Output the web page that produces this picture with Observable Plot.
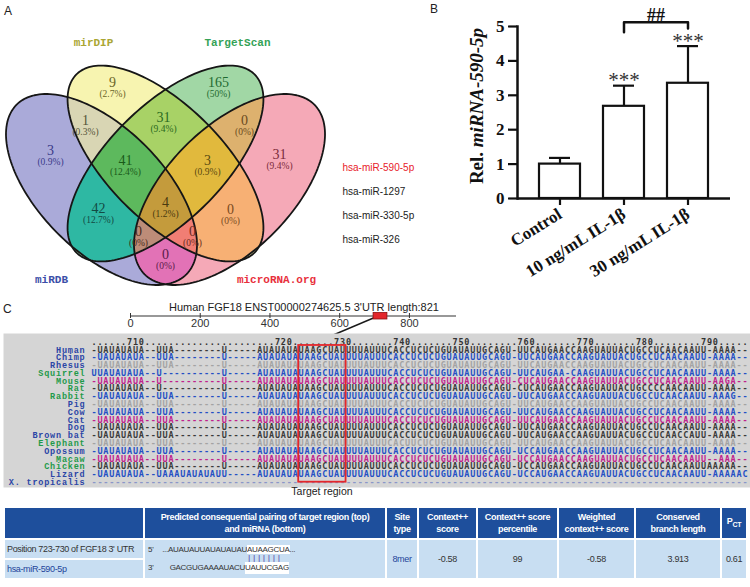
<!DOCTYPE html>
<html>
<head>
<meta charset="utf-8">
<script src="https://cdn.jsdelivr.net/npm/d3@7"></script>
<script src="https://cdn.jsdelivr.net/npm/@observablehq/plot@0.6"></script>
<style>
html,body{margin:0;padding:0;background:#fff;}
#fig{position:relative;width:750px;height:587px;overflow:hidden;background:#fff;font-family:"Liberation Sans",Arial,sans-serif;color:#222;}
.abs{position:absolute;}
.plabel{position:absolute;font-size:12px;line-height:13px;color:#222;}
#tbl{position:absolute;left:3px;top:506px;border-collapse:separate;border-spacing:2px;table-layout:fixed;width:745px;background:#fff;}
#tbl th{background:#1e4f9c;color:#fff;font-weight:bold;height:30px;padding:0;text-align:center;vertical-align:middle;}
#tbl td{background:#c8def2;padding:0;height:18px;vertical-align:middle;color:#333;}
.hl{background:#fff;}
</style>
</head>
<body>
<div id="fig"></div>
<script>
// ================= DATA =================
// Panel A – Venn diagram
const vennSets = ["miRDB", "mirDIP", "TargetScan", "microRNA.org"];
const vennRegionKeys = ["Y", "G", "BY", "YG", "GP", "B", "BYG", "YGP", "P", "BG", "BYGP", "YP", "BGP", "BYP", "BP"];
const vennCounts = [9, 165, 1, 31, 0, 3, 41, 3, 31, 42, 4, 0, 0, 0, 0];
const vennPercents = ["2.7%", "50%", "0.3%", "9.4%", "0%", "0.9%", "12.4%", "0.9%", "9.4%", "12.7%", "1.2%", "0%", "0%", "0%", "0%"];
const predictedMiRNAs = ["hsa-miR-590-5p", "hsa-miR-1297", "hsa-miR-330-5p", "hsa-miR-326"];

// Panel B – bar chart
const groups = ["Control", "10 ng/mL IL-1β", "30 ng/mL IL-1β"];
const means = [1.0, 2.68, 3.35];
const sds = [0.18, 0.60, 1.08];
const sigMarks = ["", "***", "***"];
const yTicks = [0, 1, 2, 3, 4, 5];

// Panel C – conservation
const utrTitle = "Human FGF18 ENST00000274625.5 3'UTR length:821";
const utrTicks = [0, 200, 400, 600, 800];
const siteStart = 723, siteEnd = 730;
const species = ["Human", "Chimp", "Rhesus", "Squirrel", "Mouse", "Rat", "Rabbit", "Pig", "Cow", "Cat", "Dog", "Brown bat", "Elephant", "Opossum", "Macaw", "Chicken", "Lizard", "X. tropicalis"];
const alignHeader = "......710" + "......................720" + ".......730" + ".......740" + ".......750" + "........760" + ".......770" + ".......780" + "........790" + ".....";
const alignedSeqs = [
  "-UAUAUAUA--UUA--------U-----" + "AUAUAUAUAAGCUA" + "UUUUAUUUCACCUCUCUGUAUAUUGCAGU" + "-" + "UUCAUGAACCAAGUAUUACUGCCUCAACAAUU" + "-AAAA--",
  "-UAUAUAUA--UUA--------U-----" + "AUAUAUAUAAGCUA" + "UUUUAUUUCACCUCUCUGUAUAUUGCAGU" + "-" + "UUCAUGAACCAAGUAUUACUGCCUCAACAAUU" + "-AAAA--",
  "-UAUAUAUA--UUA--------U-----" + "AUAUAUAUAAGCUA" + "UUUUAUUUCACCUCUCUGUAUAUUGCAGU" + "-" + "UUCAUGAACCAAGUAUUACUGCCUCAACAAUU" + "-AAAA--",
  "UUAUAUAUA--U----------U-----" + "AUAUAUAUAAGCUA" + "UUUUAUUUCACCUCUCUGUAUAUUGCAGU" + "-" + "UUCAUGAA-CAAGUAUUACUGCCUCAACAAUU" + "-AAAA--",
  "-UAUAUAUA--U----------U-----" + "AUAUAUAUAAGCUA" + "UUUUAUUUCACCUCUCUGUAUAUUGCAGU" + "-" + "CUCAUGAACCAAGUAUUACUGCCUCAACAAUU" + "-AAGA--",
  "-UAUAUAUA--U----------U-----" + "AUAUAUAUAAGCUA" + "UUUUAUUUCACCUCUCUGUAUAUUGCAGU" + "-" + "CUCAUGAACCAAGUAUUACUGCCCCAACAAUU" + "-AAAA--",
  "-UAUAUAUA--UUA--------U-----" + "AUAUAUAUAAGCUA" + "UUUUAUUUCACCUCUCUGUAUAUUGCAGU" + "-" + "UUCAUGAACCAAGUAUUACUGCCUCAACAAUU" + "-AAAG--",
  "-UAUAUAUA--UUA--------U-----" + "AUAUAUAUAAGCUA" + "UUUUAUUUCACCUCUCUGUAUAUUGCAGU" + "-" + "UUCAUGAACCAAGUAUUACUGCCUCAACAAUU" + "-AAAA--",
  "-UAUAUAUA--UUA--------U-----" + "AUAUAUAUAAGCUA" + "UUUUAUUUCACCUCUCUGUAUAUUGCAGU" + "-" + "UUCAUGAACCAAGUAUUACUGCCUCAACAAUU" + "-AAAA--",
  "-UAUAUAUA--UUA--------U-----" + "AUAUAUAUAAGCUA" + "UUUUAUUUCACCUCUCUGUAUAUUGCAGU" + "-" + "UUCAUGAACCAAGUAUUACUGCCUCAACAAUU" + "-AAAA--",
  "-UAUAUAUA--UUA--------U-----" + "AUAUAUAUAAGCUA" + "UUUUAUUUCACCUCUCUGUAUAUUGCAGU" + "-" + "UUCAUGAACCAAGUAUUACUGCCUCAACAAUU" + "-AAAA--",
  "-UAUAUAUA--UUA--------U-----" + "AUAUAUAUAAGCUA" + "UUUUAUUUCACCUCUCUGUAUAUUGCAGU" + "-" + "UUCAUGAACCAAGUAUUACUGCCUCAACCAUU" + "-AAAA--",
  "-UAUAUAUA--UUA--------U-----" + "AUAUAUAUAAGCUA" + "UUUUAUUUCACUUCUCUGUAUAUUGCAGU" + "-" + "UUCAUGAACCAAGUAUUACUGCCUCAACAAUU" + "-AAAA--",
  "-UAUAUAUA--UUA--------U-----" + "AUAUAUAUAAGCUA" + "UUUUAUUUCACCUCUCUGUAUAUUGCAGU" + "-" + "UCCAUGAACCAAGUAUUACUGCCUCAACAAUU" + "-AAAA--",
  "-UAUAUAUA--UUA--------U-----" + "AUAUAUAUAAGCUA" + "UUUUAUUUCACCUCUCUGUAUAUUGCAGU" + "-" + "UCCAUGAACCAAGUAUUACUGCCUCAACAAUU" + "--AAA--",
  "-UAUAUAUA--UUA--------U-----" + "AUAUAUAUAAGCUA" + "UUUUAUUUCACCUCUCUGUAUAUUGCAGU" + "-" + "UCCAUGAACCAAGUAUUACUGCCUCAACAAUU" + "AAAAA--",
  "-UAUAUAUA--UAAAUAUAUAUU-----" + "AUAUAUAUAAGCUA" + "UUUUAUUUCACCUCUCUGUAUAUUGCAGU" + "-" + "UCCAUGAACCAAGUAUUACUGCCUCAACAAUU" + "-AAAAAC",
  "-".repeat(111)
];

// Table
const tableHeaders = ["", "Predicted consequential pairing of target region (top)|and miRNA (bottom)", "Site|type", "Context++|score", "Context++ score|percentile", "Weighted|context++ score", "Conserved|branch length", "P_CT"];
const sitePosition = "Position 723-730 of FGF18 3' UTR";
const mirnaName = "hsa-miR-590-5p";
const targetPrefix = "...AUAUAUUAUAUAUAU", targetSite = "AUAAGCUA", targetSuffix = "...";
const mirnaPrefix = "GACGUGAAAAUACU", mirnaSite = "UAUUCGAG";
const pairing = "|||||||";
const siteType = "8mer", contextScore = "-0.58", contextPercentile = "99", weightedScore = "-0.58", branchLength = "3.913", pctValue = "0.61";

// ================= STYLES / LAYOUT =================
const serif = "'Liberation Serif','Times New Roman',serif";
const mono = "'Liberation Mono','Courier New',monospace";
const regionFills = {B:"#aaaad9", Y:"#f7f4b0", G:"#a1d7a5", P:"#f5a9b7", BY:"#d9d6b4", BG:"#2eb8a3", YG:"#a8d266", BYG:"#5db95d",
  BP:"#e272b6", YP:"#f7b074", BYP:"#f17e74", GP:"#ddb16e", BGP:"#bd8c78", YGP:"#e1b93d", BYGP:"#c49b3c"};
const vennLabelColors = ["#6a6428","#1f6a30","#55553a","#2a6a20","#6a4a20","#3a3a8a","#1a5a1a","#5a4a10","#7a2a3a","#134a44","#4a3a10","#7a4a20","#4a2a20","#6a2a20","#5a1a4a"];
const vennLabelX = [112, 218, 85, 163, 244, 50, 125, 207, 279, 98, 165, 230, 138, 192, 165];
const vennLabelY = [82, 82, 120, 117, 120, 150, 160, 160, 154, 208, 202, 209, 231, 231, 254];
const vennGeom = {
  "miRDB":        {key:"B", cx:101, cy:189, a:120, b:62,   angle:45,  lx:51,  ly:279, color:"#3b4fa8"},
  "mirDIP":       {key:"Y", cx:165, cy:163, a:126, b:57.5, angle:45,  lx:93,  ly:42,  color:"#aaa633"},
  "TargetScan":   {key:"G", cx:165, cy:163, a:126, b:57.5, angle:-45, lx:237, ly:42,  color:"#35a257"},
  "microRNA.org": {key:"P", cx:229, cy:189, a:120, b:62,   angle:-45, lx:276, ly:279, color:"#e8303c"}
};
const nameBlue = "#2b45a6", nameGreen = "#1f9a4a";
const nameColors = [nameBlue,nameBlue,nameBlue,nameGreen,nameGreen,nameGreen,nameGreen,nameBlue,nameBlue,nameBlue,nameBlue,nameBlue,nameGreen,nameBlue,nameGreen,nameGreen,nameBlue,nameBlue];
const sDark="#3b3b3b", sBlue="#2450c4", sGray="#a3a3a3", sMag="#c0228c";
const seqColors = [sDark,sBlue,sGray,sBlue,sMag,sDark,sBlue,sGray,sBlue,sMag,sDark,sDark,sGray,sBlue,sMag,sDark,sBlue,"#8a96c8"];

const fig = document.getElementById("fig");
function place(node, left, top, w, h) {
  const d = document.createElement("div");
  d.className = "abs";
  d.style.left = left + "px"; d.style.top = top + "px";
  if (w) d.style.width = w + "px";
  if (h) d.style.height = h + "px";
  d.appendChild(node);
  fig.appendChild(d);
  return d;
}
function label(text, left, top, css) {
  const d = document.createElement("div");
  d.className = "plabel";
  d.style.left = left + "px"; d.style.top = top + "px";
  d.textContent = text;
  if (css) d.style.cssText += css;
  fig.appendChild(d);
  return d;
}

// ================= PANEL A: VENN =================
function inside(g, x, y) {
  const t = g.angle * Math.PI / 180, c = Math.cos(t), s = Math.sin(t);
  const dx = x - g.cx, dy = y - g.cy;
  const u = dx * c + dy * s, v = -dx * s + dy * c;
  return (u * u) / (g.a * g.a) + (v * v) / (g.b * g.b) <= 1;
}
function regionColor(x, y) {
  let k = "";
  for (const name of vennSets) if (inside(vennGeom[name], x, y)) k += vennGeom[name].key;
  return k ? regionFills[k] : "#ffffff";
}
const ellipsePts = vennSets.flatMap(name => {
  const g = vennGeom[name], t = g.angle * Math.PI / 180;
  return d3.range(0, 360, 2).map(deg => {
    const p = deg * Math.PI / 180, u = g.a * Math.cos(p), v = g.b * Math.sin(p);
    return {set: name, x: g.cx + u * Math.cos(t) - v * Math.sin(t), y: g.cy + u * Math.sin(t) + v * Math.cos(t)};
  });
});
const regionRows = vennRegionKeys.map((k, i) => ({key: k, count: vennCounts[i], pct: vennPercents[i], x: vennLabelX[i], y: vennLabelY[i], color: vennLabelColors[i]}));
const setRows = vennSets.map(name => ({name, x: vennGeom[name].lx, y: vennGeom[name].ly, color: vennGeom[name].color}));

const vennMarks = [];
if (typeof Plot.raster === "function") {
  vennMarks.push(Plot.raster({x1: 0, y1: 0, x2: 340, y2: 300, width: 340, height: 300, fill: (x, y) => regionColor(x, y)}));
}
vennMarks.push(
  Plot.line(ellipsePts, {x: "x", y: "y", z: "set", curve: "linear-closed", stroke: "#161616", strokeWidth: 1.8}),
  Plot.text(regionRows, {x: "x", y: "y", text: d => String(d.count), fill: "color", fontSize: 14, fontFamily: serif}),
  Plot.text(regionRows, {x: "x", y: "y", dy: 11, text: d => "(" + d.pct + ")", fill: "color", fontSize: 9.5, fontFamily: serif}),
  Plot.text(setRows, {x: "x", y: "y", text: "name", fill: "color", fontSize: 11, fontWeight: "bold", fontFamily: mono}),
  Plot.text(predictedMiRNAs, {x: () => 342, y: (d, i) => 167 + 24 * i, text: d => d, textAnchor: "start",
    fill: (d, i) => i === 0 ? "#e8202a" : "#222222", fontSize: 10, fontFamily: "'Liberation Sans',Arial,sans-serif"})
);
const vennPlot = Plot.plot({
  width: 440, height: 300, margin: 0,
  x: {domain: [0, 440], range: [0, 440], axis: null},
  y: {domain: [0, 300], range: [0, 300], axis: null},
  color: {type: "identity"},
  style: "background: transparent; overflow: visible;",
  marks: vennMarks
});
place(vennPlot, 0, 0, 440, 300);
label("A", 4, 5);

// ================= PANEL B: BAR CHART =================
const barData = groups.map((g, i) => ({group: g, mean: means[i], sd: sds[i], sig: sigMarks[i]}));
const bracketTop = 5.12;
const bracket = [{x: groups[1], y: 4.83}, {x: groups[1], y: bracketTop}, {x: groups[2], y: bracketTop}, {x: groups[2], y: 4.94}];
const barPlot = Plot.plot({
  width: 320, height: 300, marginLeft: 87, marginRight: 20, marginTop: 26, marginBottom: 102,
  x: {domain: groups, paddingInner: 0.36, paddingOuter: 0.34, axis: null},
  y: {domain: [0, 5], axis: null},
  style: "background: transparent; overflow: visible; font-family: 'Liberation Serif', serif; color: #111;",
  marks: [
    Plot.barY(barData, {x: "group", y: "mean", fill: "white", stroke: "#111", strokeWidth: 2.2}),
    Plot.ruleX(barData, {x: "group", y1: "mean", y2: d => d.mean + d.sd, stroke: "#111", strokeWidth: 2.2}),
    Plot.tickY(barData, {x: "group", y: d => d.mean + d.sd, stroke: "#111", strokeWidth: 2.2, inset: 10}),
    Plot.frame({anchor: "left", stroke: "#111", strokeWidth: 2.5}),
    Plot.ruleY([0], {stroke: "#111", strokeWidth: 2.5}),
    Plot.axisY({ticks: yTicks, tickSize: 9, tickPadding: 4, fontSize: 17, fontWeight: "bold", fontFamily: serif, strokeWidth: 2.2, label: null, tickFormat: d => String(d)}),
    Plot.axisX({tickSize: 7, tickPadding: 7, tickRotate: -32, fontSize: 17, fontWeight: "bold", fontFamily: serif, strokeWidth: 2.2, label: null}),
    Plot.text(barData.filter(d => d.sig), {x: "group", y: d => d.mean + d.sd, text: "sig", dy: -5, fontSize: 21, fontFamily: serif, fill: "#333"}),
    Plot.line(bracket, {x: "x", y: "y", stroke: "#111", strokeWidth: 2.5}),
    Plot.text(["##"], {x: () => groups[1], y: () => bracketTop, text: d => d, dx: 32, dy: -7, fontSize: 18, fontWeight: "bold", fontFamily: serif, fill: "#111"})
  ]
});
{
  const lab = d3.select(barPlot).append("text")
    .attr("transform", "translate(53,106) rotate(-90)")
    .attr("text-anchor", "middle").attr("font-family", serif).attr("font-weight", "bold")
    .attr("font-size", 19).attr("fill", "#111");
  lab.append("tspan").text("Rel. ");
  lab.append("tspan").attr("font-style", "italic").text("miRNA-590-5p");
}
place(barPlot, 430, 0, 320, 300);
label("B", 430, 3);

// ================= PANEL C: UTR SCALE BAR =================
const barX = d3.scaleLinear([0, 935], [130, 456]);
const colW = 5.92, col0 = 91;
const alignX = d3.scaleLinear([0, 1], [col0, col0 + colW]);
const calloutCol = 38;
const calloutNt = barX.invert(alignX(calloutCol));
const scalePlot = Plot.plot({
  width: 750, height: 38, margin: 0,
  x: {domain: barX.domain(), range: barX.range(), axis: null},
  y: {domain: [0, 38], range: [0, 38], axis: null},
  style: "background: transparent; overflow: visible;",
  marks: [
    Plot.ruleY([20.5], {x1: 0, x2: 935, stroke: "#333", strokeWidth: 1.1}),
    Plot.ruleX(utrTicks, {y1: 18, y2: 23, stroke: "#333", strokeWidth: 1}),
    Plot.text(utrTicks, {x: d => d, y: 28, text: d => String(d), fontSize: 11, fill: "#333", fontFamily: "'Liberation Sans',Arial,sans-serif"}),
    Plot.link([0], {x1: siteStart, y1: 22, x2: calloutNt, y2: 50, stroke: "#1a1a1a", strokeWidth: 1.4, dx: -8}),
    Plot.rect([0], {x1: siteStart, x2: siteEnd, y1: 17.5, y2: 24, fill: "#e3262b", stroke: "#8a1010", strokeWidth: 0.8, insetLeft: -9, insetRight: -2.4})
  ]
});
place(scalePlot, 0, 295, 750, 38);
label(utrTitle, 104, 301, "width:400px;text-align:center;font-size:11px;line-height:12px;color:#222;");
label("C", 3, 303);

// ================= PANEL C: ALIGNMENT =================
const alignRows = species.map((s, i) => ({name: s, seq: alignedSeqs[i], row: i + 1, nameColor: nameColors[i], seqColor: seqColors[i]}));
const seqFont = "'DejaVu Sans Mono',monospace";
const alignPlot = Plot.plot({
  width: 750, height: 160, marginLeft: 3, marginRight: 0, marginTop: 0, marginBottom: 6,
  x: {domain: [0, 1], range: [col0, col0 + colW], axis: null},
  y: {domain: [0, 18], range: [8.5, 148.7], axis: null},
  color: {type: "identity"},
  style: "background: transparent; overflow: hidden; letter-spacing: 0.8px;",
  marks: [
    Plot.frame({fill: "#d5d5d5", stroke: "none"}),
    Plot.text([alignHeader], {x: 0, y: 0, text: d => d, textAnchor: "start", fill: "#333", fontSize: 8.5, fontWeight: "bold", fontFamily: seqFont}),
    Plot.text(alignRows, {x: 0, y: "row", dx: -6, text: "name", textAnchor: "end", fill: "nameColor", fontSize: 8.5, fontWeight: "bold", fontFamily: mono}),
    Plot.text(alignRows, {x: 0, y: "row", text: "seq", textAnchor: "start", fill: "seqColor", fontSize: 8.5, fontWeight: "bold", fontFamily: seqFont}),
    Plot.rect([0], {x1: 35, x2: 43, y1: 1, y2: 18, insetTop: -4.3, fill: "none", stroke: "#e3262b", strokeWidth: 1.8})
  ]
});
place(alignPlot, 0, 333, 750, 160);
label("Target region", 262, 486, "width:120px;text-align:center;font-size:10.5px;line-height:11px;color:#222;");

// ================= TABLE =================
function fontAvailable(name) {
  const c = document.createElement("canvas").getContext("2d");
  const s = "abcdefghijklmnopqrstuvwxyzABCDEFGHIJ0123456789";
  c.font = "10px monospace"; const w0 = c.measureText(s).width;
  c.font = "10px '" + name + "', monospace"; return c.measureText(s).width !== w0;
}
const hasNarrow = fontAvailable("Liberation Sans Narrow");
const tFont = hasNarrow ? "font-family:'Liberation Sans Narrow',sans-serif;font-size:10px;" : "font-family:'Liberation Sans',Arial,sans-serif;font-size:9px;letter-spacing:-0.35px;";
const pFont = hasNarrow ? "font-family:'Liberation Sans Narrow',sans-serif;font-size:9px;" : "font-family:'Liberation Sans',Arial,sans-serif;font-size:8px;letter-spacing:-0.3px;";

const tbl = document.createElement("table");
tbl.id = "tbl";
const colWidths = [138, 240, 30, 57, 79, 75, 84, 24];
const cg = document.createElement("colgroup");
colWidths.forEach(w => { const c = document.createElement("col"); c.style.width = w + "px"; cg.appendChild(c); });
tbl.appendChild(cg);
const hr = document.createElement("tr");
tableHeaders.forEach(h => {
  const th = document.createElement("th");
  th.style.cssText = tFont + "font-weight:bold;line-height:12px;";
  if (h === "P_CT") th.innerHTML = "P<sub style='font-size:7px'>CT</sub>";
  else th.innerHTML = h.split("|").join("<br>");
  hr.appendChild(th);
});
tbl.appendChild(hr);
const r1 = document.createElement("tr"), r2 = document.createElement("tr");
const c1 = document.createElement("td");
c1.style.cssText = tFont + "padding-left:2px;white-space:nowrap;";
c1.textContent = sitePosition;
r1.appendChild(c1);
const cp = document.createElement("td");
cp.rowSpan = 2;
cp.style.cssText = pFont + "position:relative;";
cp.innerHTML =
  `<div style="position:absolute;left:0;top:0;width:240px;height:38px;line-height:12px;color:#333;">
     <span style="position:absolute;left:3px;top:4px">5'</span>
     <span style="position:absolute;right:138px;top:4px;white-space:nowrap">${targetPrefix}</span>
     <span style="position:absolute;left:102px;top:4px;white-space:nowrap"><span class="hl">${targetSite}</span>${targetSuffix}</span>
     <span style="position:absolute;left:103px;top:13px;white-space:nowrap;color:#5b4aa8;letter-spacing:2.6px;font-size:9px">${pairing}</span>
     <span style="position:absolute;left:3px;top:22px">3'</span>
     <span style="position:absolute;right:140px;top:22px;white-space:nowrap">${mirnaPrefix}</span>
     <span style="position:absolute;left:100px;top:22px;white-space:nowrap" class="hl">${mirnaSite}</span>
   </div>`;
r1.appendChild(cp);
[[siteType, "#23449a"], [contextScore, "#333"], [contextPercentile, "#333"], [weightedScore, "#333"], [branchLength, "#333"], [pctValue, "#333"]].forEach(([v, col]) => {
  const td = document.createElement("td");
  td.rowSpan = 2;
  td.style.cssText = tFont + "text-align:center;color:" + col + ";";
  td.textContent = v;
  r1.appendChild(td);
});
const c2 = document.createElement("td");
c2.style.cssText = tFont + "padding-left:2px;color:#23449a;white-space:nowrap;";
c2.textContent = mirnaName;
r2.appendChild(c2);
tbl.appendChild(r1); tbl.appendChild(r2);
fig.appendChild(tbl);
</script>
</body>
</html>
